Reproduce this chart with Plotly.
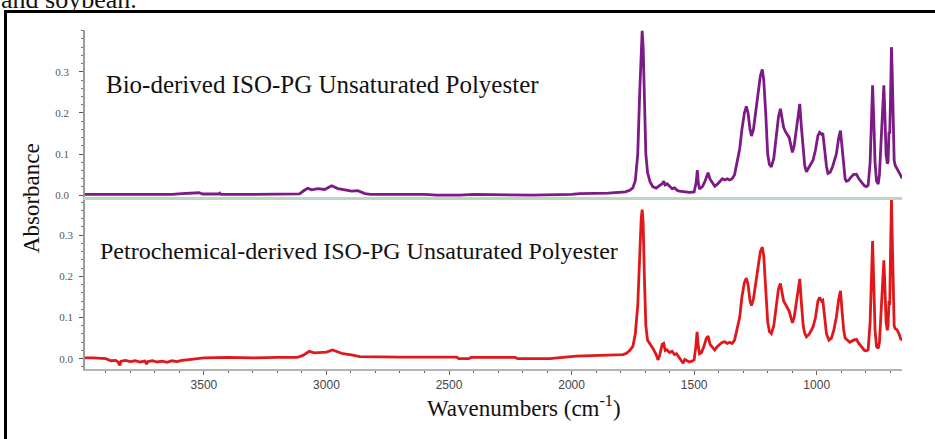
import plotly.graph_objects as go

# ---------------- data ----------------
bio_wn = [3985, 3900, 3800, 3630, 3590, 3545, 3520, 3505, 3440, 3435, 3430, 3300, 3200, 3110,
          3090, 3076, 3060, 3035, 3007, 2979, 2953, 2925, 2897, 2872, 2843, 2820, 2600, 2550,
          2456, 2400, 2252, 2158, 2000, 1967, 1850, 1791, 1780, 1763, 1750, 1740, 1730, 1722,
          1716, 1712, 1708, 1703, 1697, 1690, 1680, 1669, 1655, 1640, 1630, 1624, 1618, 1610,
          1600, 1590, 1580, 1570, 1560, 1540, 1520, 1500, 1492, 1487, 1483, 1478, 1465, 1455,
          1447, 1443, 1436, 1425, 1416, 1405, 1395, 1385, 1375, 1365, 1355, 1345, 1335, 1325,
          1314, 1305, 1295, 1287, 1280, 1272, 1266, 1258, 1250, 1240, 1230, 1222, 1216, 1208,
          1200, 1193, 1185, 1175, 1165, 1156, 1148, 1142, 1135, 1128, 1120, 1112, 1105, 1099,
          1092, 1082, 1075, 1069, 1063, 1055, 1049, 1042, 1030, 1015, 1005, 995, 988, 980, 975,
          968, 960, 954, 945, 935, 920, 910, 903, 897, 890, 884, 879, 870, 860, 850, 838, 828,
          815, 805, 797, 790, 782, 777, 772, 768, 762, 756, 749, 744, 738, 733, 729, 726, 722,
          717, 712, 709, 705, 702, 699, 695, 692, 688, 684, 680, 672, 664, 657, 651]
bio_abs = [0.002, 0.002, 0.002, 0.002, 0.004, 0.006, 0.006, 0.003, 0.003, 0.005, 0.002, 0.002,
           0.002, 0.003, 0.012, 0.017, 0.013, 0.016, 0.014, 0.023, 0.016, 0.013, 0.010, 0.011,
           0.004, 0.002, 0.002, 0.000, 0.000, 0.002, 0.000, 0.000, 0.002, 0.004, 0.005, 0.006,
           0.008, 0.012, 0.018, 0.035, 0.100, 0.250, 0.370, 0.400, 0.360, 0.220, 0.100, 0.055,
           0.033, 0.021, 0.017, 0.024, 0.028, 0.034, 0.025, 0.028, 0.022, 0.016, 0.018, 0.012,
           0.010, 0.008, 0.007, 0.008, 0.030, 0.061, 0.030, 0.015, 0.022, 0.035, 0.052, 0.055,
           0.040, 0.030, 0.022, 0.027, 0.035, 0.040, 0.037, 0.040, 0.037, 0.040, 0.050, 0.080,
           0.113, 0.160, 0.200, 0.216, 0.200, 0.160, 0.144, 0.160, 0.200, 0.250, 0.290, 0.306,
           0.280, 0.200, 0.100, 0.075, 0.069, 0.090, 0.140, 0.190, 0.210, 0.190, 0.165, 0.155,
           0.148, 0.140, 0.120, 0.104, 0.120, 0.160, 0.200, 0.222, 0.170, 0.100, 0.073, 0.057,
           0.070, 0.085, 0.110, 0.145, 0.153, 0.148, 0.151, 0.110, 0.070, 0.053, 0.056, 0.070,
           0.100, 0.140, 0.157, 0.120, 0.070, 0.040, 0.034, 0.036, 0.044, 0.050, 0.051, 0.040,
           0.030, 0.023, 0.021, 0.024, 0.080, 0.200, 0.267, 0.200, 0.080, 0.035, 0.027, 0.050,
           0.120, 0.200, 0.226, 0.267, 0.200, 0.100, 0.077, 0.080, 0.154, 0.150, 0.230, 0.360,
           0.300, 0.150, 0.085, 0.073, 0.065, 0.055, 0.048, 0.041]

petro_wn = [3985, 3950, 3900, 3880, 3860, 3850, 3843, 3838, 3820, 3800, 3780, 3760, 3740, 3734,
            3728, 3710, 3690, 3670, 3650, 3630, 3610, 3590, 3560, 3530, 3500, 3400, 3300, 3200,
            3120, 3096, 3070, 3050, 3028, 3000, 2975, 2950, 2933, 2898, 2864, 2700, 2469, 2460,
            2420, 2410, 2230, 2220, 2090, 1980, 1832, 1790, 1776, 1763, 1750, 1740, 1730, 1722,
            1716, 1712, 1708, 1703, 1697, 1690, 1681, 1668, 1655, 1647, 1640, 1630, 1624, 1618,
            1612, 1600, 1590, 1580, 1572, 1560, 1550, 1545, 1538, 1531, 1520, 1510, 1500, 1493,
            1488, 1483, 1478, 1470, 1460, 1450, 1443, 1435, 1425, 1416, 1405, 1395, 1385, 1375,
            1365, 1355, 1345, 1335, 1325, 1314, 1305, 1295, 1287, 1280, 1272, 1266, 1258, 1250,
            1240, 1230, 1222, 1216, 1208, 1200, 1193, 1185, 1175, 1165, 1156, 1148, 1142, 1135,
            1128, 1120, 1112, 1105, 1099, 1092, 1082, 1075, 1069, 1063, 1055, 1049, 1042, 1030,
            1015, 1005, 995, 988, 980, 975, 968, 960, 950, 940, 930, 920, 910, 903, 897, 890, 884,
            876, 865, 850, 838, 828, 815, 805, 797, 790, 782, 777, 772, 768, 762, 756, 749, 744,
            738, 733, 729, 726, 722, 717, 712, 709, 705, 702, 699, 695, 692, 688, 684, 680, 672,
            664, 657, 651]
petro_abs = [0.002, 0.002, 0.000, -0.005, -0.004, -0.008, -0.016, -0.006, -0.004, -0.007,
             -0.005, -0.008, -0.006, -0.013, -0.007, -0.005, -0.008, -0.006, -0.009, -0.005,
             -0.007, -0.004, -0.002, 0.000, 0.002, 0.003, 0.002, 0.003, 0.003, 0.008, 0.018,
             0.014, 0.015, 0.016, 0.021, 0.016, 0.012, 0.009, 0.005, 0.004, 0.004, 0.000, 0.000,
             0.003, 0.003, 0.000, 0.000, 0.006, 0.008, 0.010, 0.013, 0.020, 0.030, 0.060, 0.130,
             0.260, 0.340, 0.362, 0.330, 0.200, 0.080, 0.045, 0.037, 0.025, 0.010, -0.003, 0.010,
             0.035, 0.037, 0.020, 0.022, 0.015, 0.018, 0.010, 0.012, 0.003, -0.006, -0.011,
             -0.002, -0.004, -0.008, -0.006, -0.003, 0.030, 0.065, 0.030, 0.012, 0.015, 0.030,
             0.050, 0.055, 0.035, 0.028, 0.021, 0.030, 0.035, 0.040, 0.041, 0.037, 0.040, 0.037,
             0.045, 0.070, 0.101, 0.150, 0.185, 0.196, 0.180, 0.140, 0.129, 0.145, 0.180, 0.225,
             0.260, 0.271, 0.250, 0.170, 0.090, 0.066, 0.061, 0.080, 0.130, 0.170, 0.183, 0.165,
             0.140, 0.133, 0.125, 0.115, 0.100, 0.087, 0.100, 0.140, 0.180, 0.194, 0.140, 0.080,
             0.062, 0.053, 0.060, 0.077, 0.100, 0.140, 0.149, 0.140, 0.142, 0.100, 0.060, 0.045,
             0.050, 0.070, 0.100, 0.145, 0.165, 0.120, 0.070, 0.050, 0.045, 0.040, 0.045, 0.047,
             0.037, 0.027, 0.020, 0.019, 0.022, 0.090, 0.220, 0.286, 0.200, 0.070, 0.030, 0.025,
             0.040, 0.100, 0.170, 0.210, 0.239, 0.180, 0.090, 0.069, 0.080, 0.140, 0.130, 0.250,
             0.386, 0.300, 0.150, 0.080, 0.073, 0.070, 0.060, 0.048, 0.045]

x_ticks = [3500, 3000, 2500, 2000, 1500, 1000]
y_ticks = [0.0, 0.1, 0.2, 0.3]
bio_label = "Bio-derived ISO-PG Unsaturated Polyester"
petro_label = "Petrochemical-derived ISO-PG Unsaturated Polyester"
x_title = "Wavenumbers (cm<sup>-1</sup>)"
y_title = "Absorbance"
caption = "and soybean."

# ---------------- figure ----------------
W, H = 935, 439
def px(x):
    return x / W
def py(y):
    return 1 - y / H

SERIF = "Liberation Serif"
SANS = "Liberation Sans"

fig = go.Figure()
fig.add_trace(go.Scatter(x=petro_wn, y=petro_abs, mode="lines",
                         line=dict(color="#e0181b", width=2.8), xaxis="x", yaxis="y",
                         showlegend=False, hoverinfo="skip"))
fig.add_trace(go.Scatter(x=bio_wn, y=bio_abs, mode="lines",
                         line=dict(color="#7c1a86", width=2.8), xaxis="x2", yaxis="y2",
                         showlegend=False, hoverinfo="skip"))

xr = [3985, 652]
yaxis_common = dict(
    tickvals=y_ticks, ticktext=[f"{v:.1f}" for v in y_ticks],
    ticks="outside", ticklen=4, tickwidth=1, tickcolor="#555",
    showline=True, linecolor="#9a9a9a", linewidth=1.5,
    showgrid=False, zeroline=False,
    tickfont=dict(family=SERIF, size=11, color="#555"),
    minor=dict(dtick=0.02, tick0=0, ticks="outside", ticklen=2, tickcolor="#777", showgrid=False),
)

fig.update_layout(
    width=W, height=H, margin=dict(l=0, r=0, t=0, b=0),
    paper_bgcolor="white", plot_bgcolor="rgba(0,0,0,0)",
    xaxis=dict(
        domain=[px(85), px(902)], range=xr, anchor="y",
        tickvals=x_ticks, ticks="outside", ticklen=4, tickcolor="#666",
        showline=True, linecolor="#b4b4b4", linewidth=2,
        showgrid=False, zeroline=False,
        tickfont=dict(family=SANS, size=12, color="#444"),
        minor=dict(dtick=100, tick0=0, ticks="outside", ticklen=2, tickcolor="#666"),
    ),
    xaxis2=dict(
        domain=[px(85), px(902)], range=xr, anchor="y2", matches="x",
        showticklabels=False, ticks="",
        showline=True, linecolor="#bcd6bf", linewidth=2.5,
        showgrid=False, zeroline=False,
    ),
    yaxis=dict(domain=[py(372), py(200)], range=[-0.0241, 0.390], anchor="x",
               ticklabelstandoff=4, **yaxis_common),
    yaxis2=dict(domain=[py(199), py(30)], range=[-0.0048, 0.4024], anchor="x2",
                ticklabelstandoff=8, **yaxis_common),
    shapes=[
        dict(type="rect", xref="paper", yref="paper",
             x0=px(5.5), x1=1.1, y0=-0.1, y1=py(11.5),
             line=dict(color="black", width=3), fillcolor="rgba(0,0,0,0)", layer="above"),
    ],
    annotations=[
        dict(text=bio_label, xref="paper", yref="paper", x=px(104), y=py(85),
             xanchor="left", yanchor="middle", showarrow=False,
             font=dict(family=SERIF, size=25, color="#111")),
        dict(text=petro_label, xref="paper", yref="paper", x=px(98), y=py(253),
             xanchor="left", yanchor="middle", showarrow=False,
             font=dict(family=SERIF, size=24, color="#111")),
        dict(text=y_title, xref="paper", yref="paper", x=px(31), y=py(200),
             xanchor="center", yanchor="middle", textangle=-90, showarrow=False,
             font=dict(family=SERIF, size=23, color="#111")),
        dict(text=x_title, xref="paper", yref="paper", x=px(524), y=py(410),
             xanchor="center", yanchor="middle", showarrow=False,
             font=dict(family=SERIF, size=23, color="#111")),
        dict(text=caption, xref="paper", yref="paper", x=px(-1), y=py(16),
             xanchor="left", yanchor="bottom", showarrow=False,
             font=dict(family=SERIF, size=26, color="#111")),
    ],
)

fig.write_html("out.html", config={"displayModeBar": False},
               post_script="document.body.style.margin='0';")
